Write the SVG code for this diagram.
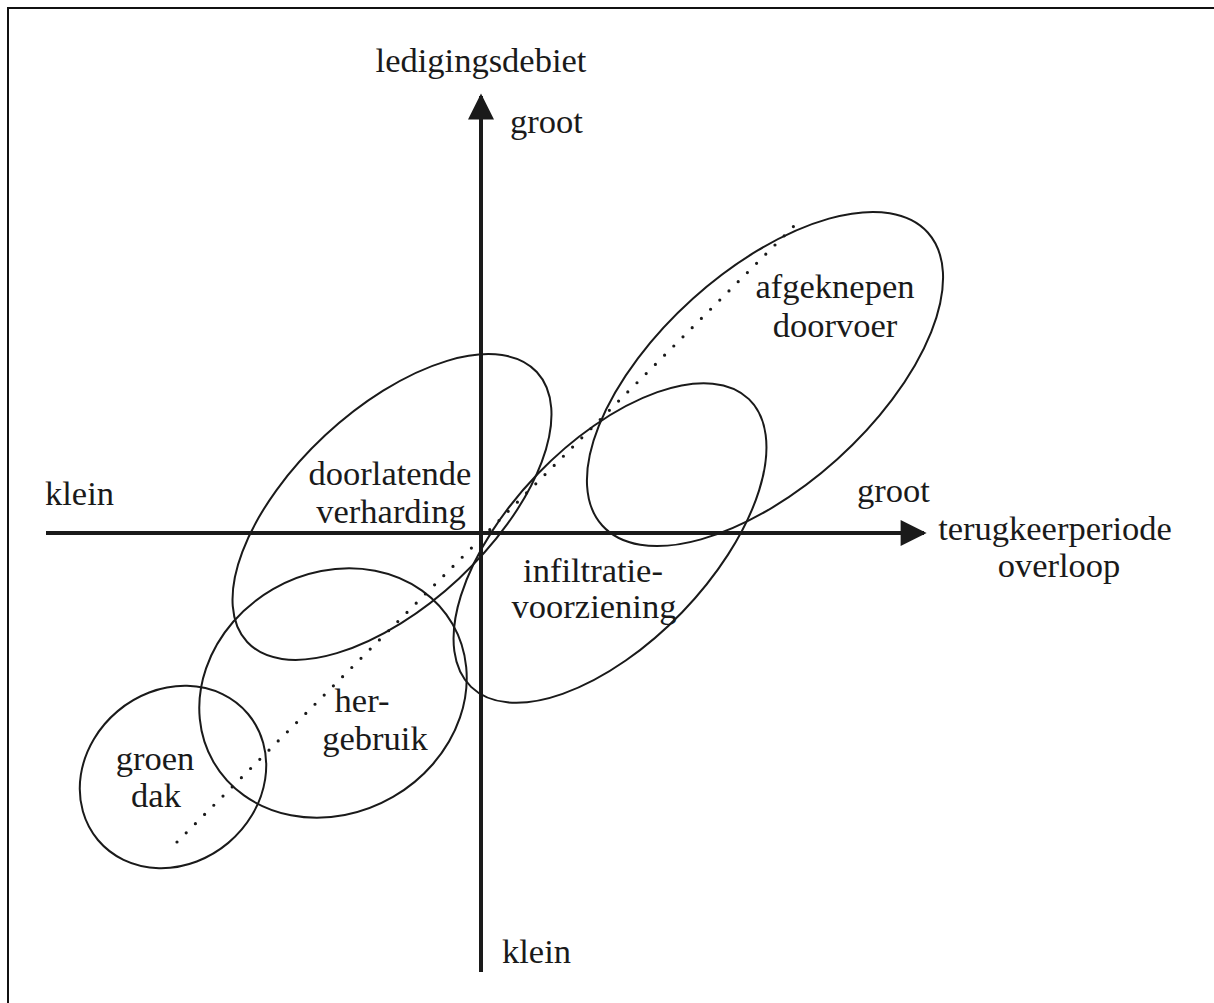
<svg xmlns="http://www.w3.org/2000/svg" width="1214" height="1003" viewBox="0 0 1214 1003">
<defs>
<style>
.t{font-family:"Liberation Serif","Times New Roman",serif;font-size:34.5px;fill:#1a1a1a}
.m{text-anchor:middle}
.e{fill:none;stroke:#1a1a1a;stroke-width:2}
.ax{stroke:#1a1a1a;stroke-width:4;fill:none}
.dot{stroke:#1a1a1a;stroke-width:3.2;stroke-linecap:round;stroke-dasharray:0 13;fill:none}
</style>
<marker id="arr" viewBox="0 0 10 10" refX="9" refY="5" markerWidth="7.5" markerHeight="6.5" markerUnits="strokeWidth" orient="auto">
<path d="M0,0 L10,5 L0,10 z" fill="#1a1a1a"/>
</marker>
</defs>
<rect width="1214" height="1003" fill="#fff"/>
<g id="frame">
<path d="M8,1003 V8 H1214" fill="none" stroke="#111" stroke-width="2"/>
</g>
<g id="connectors">
<line class="ax" x1="46" y1="533" x2="924" y2="533" marker-end="url(#arr)"/>
<line class="ax" x1="481" y1="972" x2="481" y2="96" marker-end="url(#arr)"/>
<line class="dot" x1="177" y1="842" x2="798" y2="222"/>
</g>
<g id="axis-labels">
<text class="t m" x="481" y="72">ledigingsdebiet</text>
<text class="t" x="510" y="133">groot</text>
<text class="t" x="45" y="505">klein</text>
<text class="t" x="857" y="502">groot</text>
<text class="t m" x="1055" y="540">terugkeerperiode</text>
<text class="t m" x="1059" y="577">overloop</text>
<text class="t" x="502" y="963">klein</text>
</g>
<g id="node-groendak">
<ellipse class="e" cx="0" cy="0" rx="98" ry="86" transform="translate(173,777) rotate(-40)"/>
<text class="t m" x="155" y="770">groen</text>
<text class="t m" x="156" y="807">dak</text>
</g>
<g id="node-hergebruik">
<ellipse class="e" cx="0" cy="0" rx="138" ry="120" transform="translate(333,693) rotate(-30)"/>
<text class="t m" x="362" y="712">her-</text>
<text class="t m" x="375" y="750">gebruik</text>
</g>
<g id="node-doorlatende">
<ellipse class="e" cx="0" cy="0" rx="198" ry="98" transform="translate(392,507) rotate(-43)"/>
<text class="t m" x="390" y="485">doorlatende</text>
<text class="t m" x="391" y="523">verharding</text>
</g>
<g id="node-infiltratie">
<ellipse class="e" cx="0" cy="0" rx="200" ry="100" transform="translate(610,543) rotate(-46)"/>
<text class="t m" x="593" y="582">infiltratie-</text>
<text class="t m" x="594" y="618">voorziening</text>
</g>
<g id="node-afgeknepen">
<ellipse class="e" cx="0" cy="0" rx="219" ry="108" transform="translate(765,379) rotate(-42)"/>
<text class="t m" x="835" y="298">afgeknepen</text>
<text class="t m" x="835" y="337">doorvoer</text>
</g>
</svg>
